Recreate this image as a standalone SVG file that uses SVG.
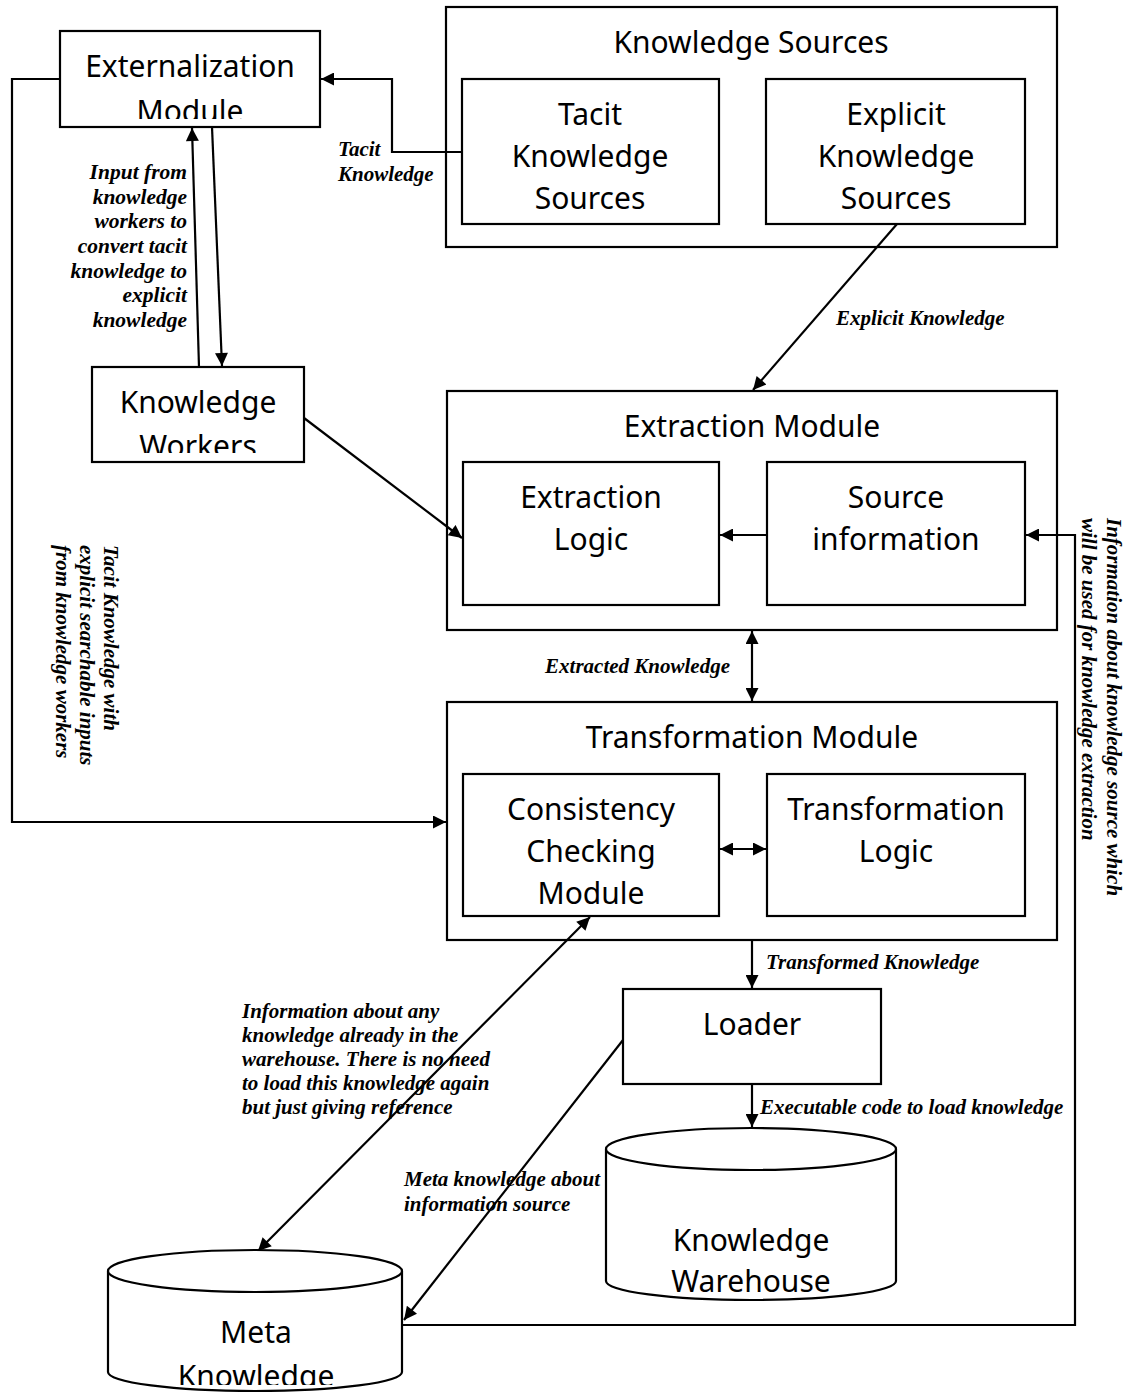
<svg xmlns="http://www.w3.org/2000/svg" width="1129" height="1395" viewBox="0 0 1129 1395">
  <style>
    .box { fill: #fff; stroke: #000; stroke-width: 2.2; }
    .grp { fill: none; stroke: #000; stroke-width: 2.2; }
    .cyl { fill: #fff; stroke: #000; stroke-width: 2.2; }
    .node { font-family: "Noto Sans", "Open Sans", sans-serif; font-size: 30px; fill: #000; text-anchor: middle; }
    .lbl { font-family: "Liberation Serif", "DejaVu Serif", serif; font-style: italic; font-weight: bold; font-size: 21px; fill: #000; }
    .lbl.wide { font-size: 21.5px; }
    .conn { fill: none; stroke: #000; stroke-width: 2.2; }
  </style>
  <defs>
    <marker id="arrow" viewBox="0 0 10 10" refX="10" refY="5" markerUnits="userSpaceOnUse" markerWidth="15" markerHeight="13" orient="auto-start-reverse">
      <path d="M0,0 L10,5 L0,10 z" fill="#000"/>
    </marker>
    <clipPath id="clipExt"><rect x="60" y="31" width="260" height="88"/></clipPath>
    <clipPath id="clipKW"><rect x="92" y="367" width="212" height="86"/></clipPath>
    <clipPath id="clipMeta"><rect x="108" y="1250" width="296" height="135"/></clipPath>
  </defs>
  <rect width="1129" height="1395" fill="#fff"/>

  <!-- connectors -->
  <g id="connectors">
    <polyline class="conn" points="462,152 392,152 392,79 321,79" marker-end="url(#arrow)"/>
    <line class="conn" x1="199" y1="367" x2="192" y2="128" marker-end="url(#arrow)"/>
    <line class="conn" x1="212" y1="127" x2="222" y2="366" marker-end="url(#arrow)"/>
    <polyline class="conn" points="60,79 12,79 12,822 446,822" marker-end="url(#arrow)"/>
    <line class="conn" x1="897" y1="224" x2="753" y2="390" marker-end="url(#arrow)"/>
    <line class="conn" x1="304" y1="418" x2="462" y2="538" marker-end="url(#arrow)"/>
    <line class="conn" x1="767" y1="535" x2="720" y2="535" marker-end="url(#arrow)"/>
    <polyline class="conn" points="403,1325 1075,1325 1075,535 1026,535" marker-end="url(#arrow)"/>
    <line class="conn" x1="752" y1="631" x2="752" y2="701" marker-start="url(#arrow)" marker-end="url(#arrow)"/>
    <line class="conn" x1="720" y1="849" x2="766" y2="849" marker-start="url(#arrow)" marker-end="url(#arrow)"/>
    <line class="conn" x1="752" y1="941" x2="752" y2="988" marker-end="url(#arrow)"/>
    <line class="conn" x1="752" y1="1085" x2="752" y2="1127" marker-end="url(#arrow)"/>
    <line class="conn" x1="590" y1="917" x2="258" y2="1251" marker-start="url(#arrow)" marker-end="url(#arrow)"/>
    <line class="conn" x1="623" y1="1040" x2="404" y2="1320" marker-end="url(#arrow)"/>
  </g>

  <!-- connector labels -->
  <g id="labels">
    <text class="lbl" x="338" y="156">Tacit</text>
    <text class="lbl" x="338" y="181">Knowledge</text>
    <g text-anchor="end">
      <text class="lbl wide" x="187" y="179">Input from</text>
      <text class="lbl wide" x="187" y="204">knowledge</text>
      <text class="lbl wide" x="187" y="228">workers to</text>
      <text class="lbl wide" x="187" y="253">convert tacit</text>
      <text class="lbl wide" x="187" y="278">knowledge to</text>
      <text class="lbl wide" x="187" y="302">explicit</text>
      <text class="lbl wide" x="187" y="327">knowledge</text>
      <text class="lbl" x="730" y="673">Extracted Knowledge</text>
    </g>
    <text class="lbl" x="836" y="325">Explicit Knowledge</text>
    <text class="lbl" x="766" y="969">Transformed Knowledge</text>
    <text class="lbl" x="760" y="1114">Executable code to load knowledge</text>
    <text class="lbl" x="242" y="1018">Information about any</text>
    <text class="lbl" x="242" y="1042">knowledge already in the</text>
    <text class="lbl" x="242" y="1066">warehouse. There is no need</text>
    <text class="lbl" x="242" y="1090">to load this knowledge again</text>
    <text class="lbl" x="242" y="1114">but just giving reference</text>
    <text class="lbl" x="404" y="1186">Meta knowledge about</text>
    <text class="lbl" x="404" y="1211">information source</text>
    <g transform="translate(104,545) rotate(90)">
      <text class="lbl" x="0" y="0">Tacit Knowledge with</text>
      <text class="lbl" x="0" y="24">explicit searchable inputs</text>
      <text class="lbl" x="0" y="48">from knowledge workers</text>
    </g>
    <g transform="translate(1107,518) rotate(90)">
      <text class="lbl" x="0" y="0">Information about knowledge source which</text>
      <text class="lbl" x="0" y="25">will be used for knowledge extraction</text>
    </g>
  </g>

  <!-- nodes -->
  <g id="knowledge-sources">
    <rect class="grp" x="446" y="7" width="611" height="240"/>
    <text class="node" x="751" y="53">Knowledge Sources</text>
  </g>
  <g id="tacit-sources">
    <rect class="box" x="462" y="79" width="257" height="145"/>
    <text class="node" x="590" y="125">Tacit</text>
    <text class="node" x="590" y="167">Knowledge</text>
    <text class="node" x="590" y="209">Sources</text>
  </g>
  <g id="explicit-sources">
    <rect class="box" x="766" y="79" width="259" height="145"/>
    <text class="node" x="896" y="125">Explicit</text>
    <text class="node" x="896" y="167">Knowledge</text>
    <text class="node" x="896" y="209">Sources</text>
  </g>
  <g id="externalization">
    <rect class="box" x="60" y="31" width="260" height="96"/>
    <g clip-path="url(#clipExt)">
      <text class="node" x="190" y="77">Externalization</text>
      <text class="node" x="190" y="122">Module</text>
    </g>
  </g>
  <g id="knowledge-workers">
    <rect class="box" x="92" y="367" width="212" height="95"/>
    <g clip-path="url(#clipKW)">
      <text class="node" x="198" y="413">Knowledge</text>
      <text class="node" x="198" y="457">Workers</text>
    </g>
  </g>
  <g id="extraction-module">
    <rect class="grp" x="447" y="391" width="610" height="239"/>
    <text class="node" x="752" y="437">Extraction Module</text>
  </g>
  <g id="extraction-logic">
    <rect class="box" x="463" y="462" width="256" height="143"/>
    <text class="node" x="591" y="508">Extraction</text>
    <text class="node" x="591" y="550">Logic</text>
  </g>
  <g id="source-information">
    <rect class="box" x="767" y="462" width="258" height="143"/>
    <text class="node" x="896" y="508">Source</text>
    <text class="node" x="896" y="550">information</text>
  </g>
  <g id="transformation-module">
    <rect class="grp" x="447" y="702" width="610" height="238"/>
    <text class="node" x="752" y="748">Transformation Module</text>
  </g>
  <g id="consistency-checking">
    <rect class="box" x="463" y="774" width="256" height="142"/>
    <text class="node" x="591" y="820">Consistency</text>
    <text class="node" x="591" y="862">Checking</text>
    <text class="node" x="591" y="904">Module</text>
  </g>
  <g id="transformation-logic">
    <rect class="box" x="767" y="774" width="258" height="142"/>
    <text class="node" x="896" y="820">Transformation</text>
    <text class="node" x="896" y="862">Logic</text>
  </g>
  <g id="loader">
    <rect class="box" x="623" y="989" width="258" height="95"/>
    <text class="node" x="752" y="1035">Loader</text>
  </g>
  <g id="knowledge-warehouse">
    <path class="cyl" d="M606,1149 L606,1281 A145,19 0 0 0 896,1281 L896,1149 A145,21 0 0 0 606,1149 Z"/>
    <path class="cyl" d="M606,1149 A145,21 0 0 0 896,1149" fill="none"/>
    <text class="node" x="751" y="1251">Knowledge</text>
    <text class="node" x="751" y="1292">Warehouse</text>
  </g>
  <g id="meta-knowledge">
    <path class="cyl" d="M108,1271 L108,1372 A147,19 0 0 0 402,1372 L402,1271 A147,21 0 0 0 108,1271 Z"/>
    <path class="cyl" d="M108,1271 A147,21 0 0 0 402,1271" fill="none"/>
    <g clip-path="url(#clipMeta)">
      <text class="node" x="256" y="1343">Meta</text>
      <text class="node" x="256" y="1387">Knowledge</text>
    </g>
  </g>
</svg>
